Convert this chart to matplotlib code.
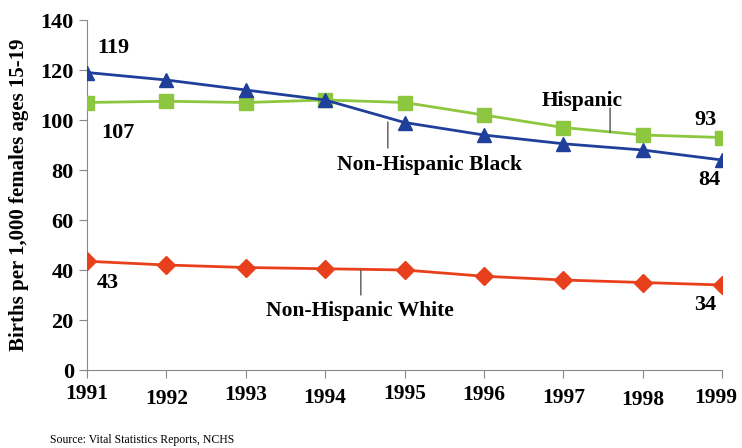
import matplotlib
matplotlib.use("Agg")
from matplotlib import pyplot as plt
from matplotlib.transforms import ScaledTranslation

years = [1991, 1992, 1993, 1994, 1995, 1996, 1997, 1998, 1999]
black = [119, 116, 112, 108, 99, 94, 90.5, 88, 84]
hispanic = [107, 107.5, 107, 108, 107, 102, 97, 94, 93]
white = [43.5, 42, 41, 40.5, 40, 37.5, 36, 35, 34]

plt.rcParams["font.family"] = "Liberation Serif"
plt.rcParams["font.weight"] = "bold"

fig = plt.figure(figsize=(7.42, 4.48), dpi=100)
ax = fig.add_axes([87 / 742, 78 / 448, 635 / 742, 350 / 448])

ax.plot(years, hispanic, color="#8DC63F", lw=2, marker="s", ms=10, zorder=3)
ax.plot(years, black, color="#1F3F9A", lw=2, marker="^", ms=10, zorder=4)
ax.plot(years, white, color="#E8401C", lw=2, marker="D", ms=9, zorder=3)

ax.set_xlim(1991, 1999)
ax.set_ylim(0, 140)
ax.set_xticks(years)
ax.set_yticks(range(0, 141, 20))
ax.tick_params(labelsize=16, color="#888888", length=6)
ax.tick_params(axis="x", labelsize=15.5, pad=4)
for s in ["top", "right"]:
    ax.spines[s].set_visible(False)
for s in ["left", "bottom"]:
    ax.spines[s].set_color("#888888")
ax.set_ylabel("Births per 1,000 females ages 15-19", fontsize=15, fontweight="bold", labelpad=8)

# slightly staggered year labels as in the original
dy = [0, -5, -1, -4, 0, -1, -4, -6, -4]
dx = [0, 0, 0, 0, 0, 0, 0, 0, -6]
for lab, oy, ox in zip(ax.get_xticklabels(), dy, dx):
    lab.set_transform(lab.get_transform() + ScaledTranslation(ox / 100, oy / 100, fig.dpi_scale_trans))

# value labels
ax.text(1991.13, 127, "119", fontsize=16, fontweight="bold")
ax.text(1991.18, 93, "107", fontsize=16, fontweight="bold")
ax.text(1998.65, 98, "93", fontsize=16, fontweight="bold")
ax.text(1998.7, 74, "84", fontsize=16, fontweight="bold")
ax.text(1991.12, 33, "43", fontsize=16, fontweight="bold")
ax.text(1998.65, 24, "34", fontsize=16, fontweight="bold")

# series labels with leader lines
lead = dict(arrowstyle="-", color="#555555", lw=1, shrinkA=0, shrinkB=0)
ax.text(1997.24, 107.5, "Hispanic", ha="center", va="center", fontsize=15.5, fontweight="bold")
ax.annotate("", xy=(1997.59, 95), xytext=(1997.59, 104.8), arrowprops=lead)
ax.text(1995.32, 82, "Non-Hispanic Black", ha="center", va="center", fontsize=15.5, fontweight="bold")
ax.annotate("", xy=(1994.79, 99.2), xytext=(1994.79, 88.8), arrowprops=lead)
ax.text(1994.44, 23.6, "Non-Hispanic White", ha="center", va="center", fontsize=15.5, fontweight="bold")
ax.annotate("", xy=(1994.45, 40), xytext=(1994.45, 30), arrowprops=lead)

fig.text(50 / 742, 1 - 440 / 448, "Source: Vital Statistics Reports, NCHS",
         fontsize=8.5, fontweight="normal", va="center")

fig.savefig("out.png", dpi=100)
